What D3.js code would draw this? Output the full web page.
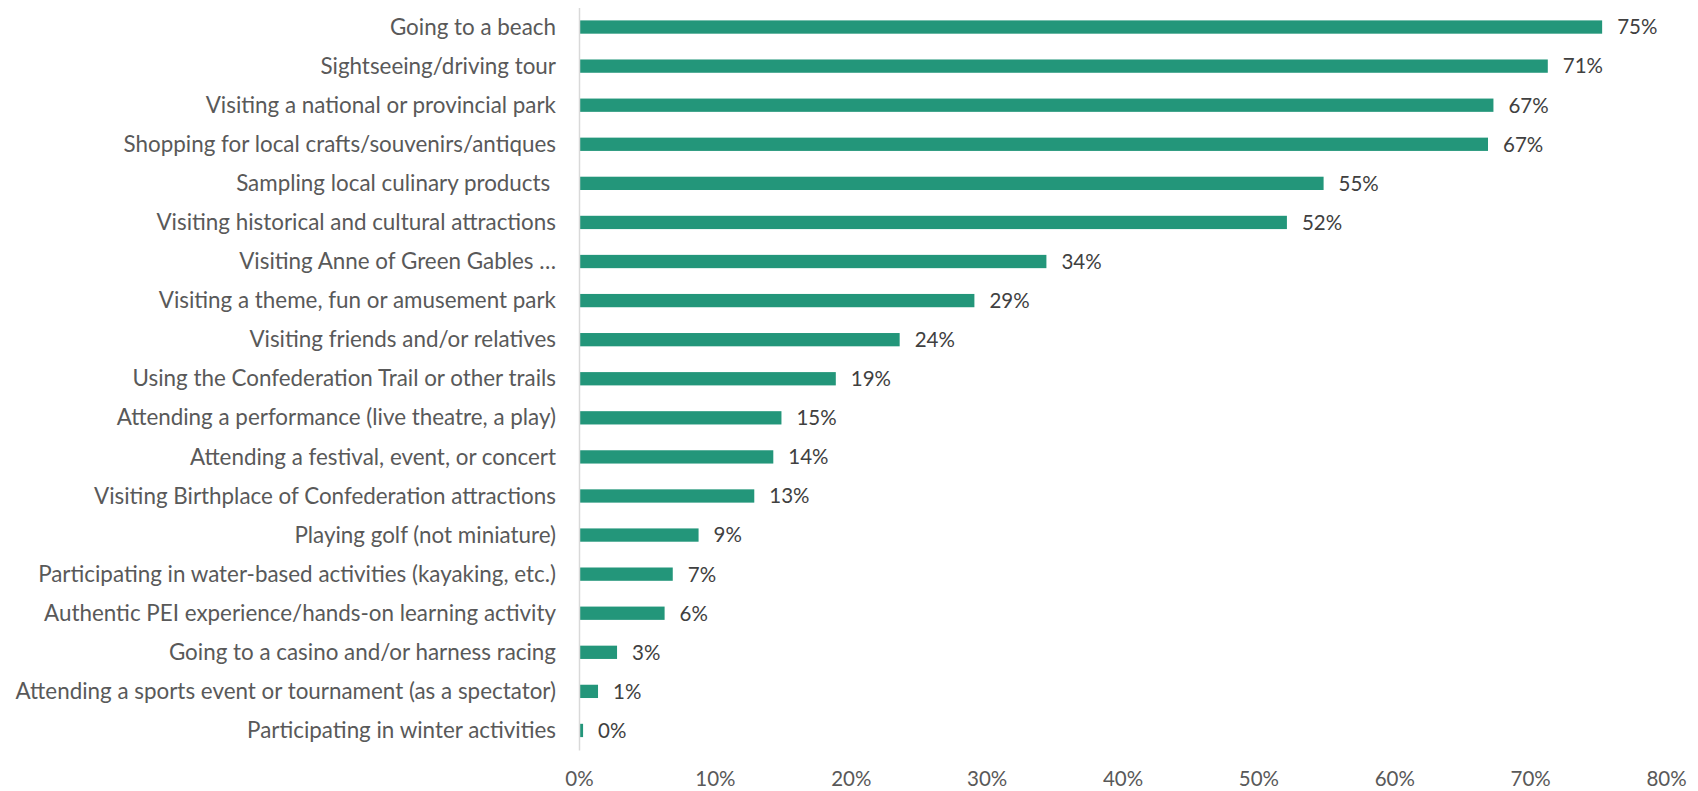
<!DOCTYPE html>
<html>
<head>
<meta charset="utf-8">
<script src="https://cdn.jsdelivr.net/npm/d3@7"></script>
<style>
  html, body { margin: 0; padding: 0; background: #ffffff; }
  svg { display: block; }
  text { font-family: Lato, "Open Sans", "Liberation Sans", sans-serif; }
</style>
</head>
<body>
<svg id="chart" width="1698" height="791"></svg>
<script>
const categories = [
  "Going to a beach",
  "Sightseeing/driving tour",
  "Visiting a national or provincial park",
  "Shopping for local crafts/souvenirs/antiques",
  "Sampling local culinary products ",
  "Visiting historical and cultural attractions",
  "Visiting Anne of Green Gables …",
  "Visiting a theme, fun or amusement park",
  "Visiting friends and/or relatives",
  "Using the Confederation Trail or other trails",
  "Attending a performance (live theatre, a play)",
  "Attending a festival, event, or concert",
  "Visiting Birthplace of Confederation attractions",
  "Playing golf (not miniature)",
  "Participating in water-based activities (kayaking, etc.)",
  "Authentic PEI experience/hands-on learning activity",
  "Going to a casino and/or harness racing",
  "Attending a sports event or tournament (as a spectator)",
  "Participating in winter activities"
];
const values = [0.753, 0.713, 0.673, 0.669, 0.548, 0.521, 0.344, 0.291, 0.236, 0.189, 0.149, 0.143, 0.129, 0.088, 0.069, 0.063, 0.028, 0.014, 0.003];
const xTicks = [0, 0.1, 0.2, 0.3, 0.4, 0.5, 0.6, 0.7, 0.8];

const data = categories.map((c, i) => ({ category: c, value: values[i] }));

const svg = d3.select("#chart");
const numSize = 20.5;
const catSize = 22.4;

const x = d3.scaleLinear().domain([0, 0.8]).range([579, 1666]);
const y = d3.scaleBand().domain(categories).range([7.5, 750])
  .paddingInner(0.66).paddingOuter(0.33);

const fmt = d3.format(".0%");

// bars
svg.append("g").selectAll("rect").data(data).join("rect")
  .attr("x", x(0))
  .attr("y", d => y(d.category))
  .attr("width", d => x(d.value) - x(0))
  .attr("height", y.bandwidth())
  .attr("fill", "#23967a");

// left axis
const yAxis = svg.append("g")
  .attr("transform", `translate(${x(0)},0)`)
  .call(d3.axisLeft(y).tickSize(0).tickSizeOuter(0).tickPadding(23));
yAxis.select(".domain").attr("stroke", "#d9d9d9").attr("stroke-width", 1.5);
yAxis.selectAll("text")
  .attr("fill", "#595959")
  .attr("dy", "0.34em")
  .style("font-size", catSize + "px")
  .style("font-family", "Lato, 'Open Sans', sans-serif")
  .style("white-space", "pre");

// bottom axis
const xAxis = svg.append("g")
  .attr("transform", "translate(0,750)")
  .call(d3.axisBottom(x).tickValues(xTicks).tickFormat(fmt).tickSize(0).tickPadding(21.5));
xAxis.select(".domain").remove();
xAxis.selectAll("text")
  .attr("fill", "#595959")
  .style("font-size", numSize + "px")
  .style("font-family", "Lato, 'Open Sans', sans-serif");

// data labels
svg.append("g").selectAll("text").data(data).join("text")
  .attr("x", d => x(d.value) + 15)
  .attr("y", d => y(d.category) + y.bandwidth() / 2)
  .attr("dy", "0.36em")
  .attr("fill", "#404040")
  .style("font-size", numSize + "px")
  .text(d => fmt(d.value));
</script>
</body>
</html>
